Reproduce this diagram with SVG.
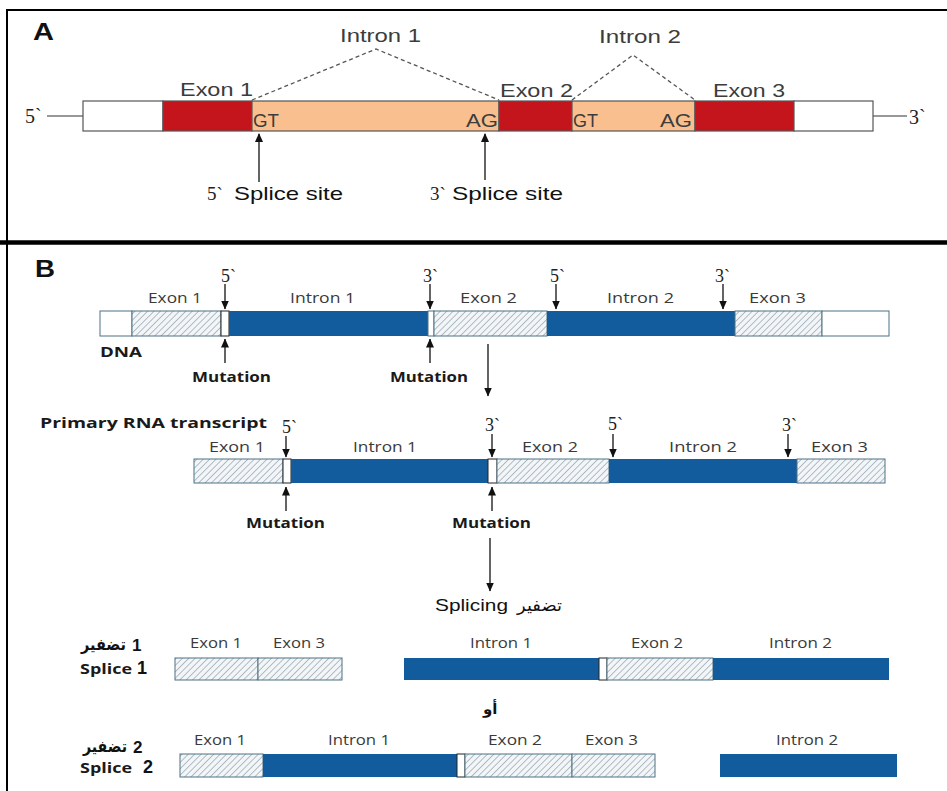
<svg xmlns="http://www.w3.org/2000/svg" width="947" height="791" viewBox="0 0 947 791">
  <style>
    .frame { stroke: #000; fill: none; }
    .seg { stroke: #555; stroke-width: 1.2; }
    .red { fill: #c4151c; }
    .peach { fill: #f9bf8e; }
    .blank { fill: #ffffff; }
    .lblA { font-family: "Liberation Sans", Arial, sans-serif; font-size: 19px; fill: #3c3c3c; }
    .serif { font-family: "Liberation Serif", "Times New Roman", serif; fill: #222; }
    .panel { font-family: "Liberation Sans", Arial, sans-serif; font-weight: bold; font-size: 23px; fill: #111; }
    .lblB { font-family: "Open Sans", "Noto Sans", sans-serif; font-size: 15px; fill: #3a3a3a; }
    .bold { font-family: "Open Sans", "Noto Sans", sans-serif; font-weight: bold; font-size: 14px; fill: #1a1a1a; }
    .ar { font-family: "DejaVu Sans", "Noto Sans", sans-serif; fill: #111; }
    .num { font-family: "Liberation Sans", Arial, sans-serif; font-weight: bold; fill: #111; }
    .bar { stroke: #4d7286; stroke-width: 1; }
    .blue { fill: #125c9d; }
    .hatch { fill: url(#hatch); }
    .dash { stroke: #555; stroke-width: 1.3; stroke-dasharray: 4 3; fill: none; }
    .arr { stroke: #111; stroke-width: 1.3; fill: none; }
  </style>
  <defs>
    <pattern id="hatch" patternUnits="userSpaceOnUse" width="4.5" height="4.5" patternTransform="rotate(45)">
      <rect width="4.5" height="4.5" fill="#f3f6f8"/>
      <line x1="0" y1="0" x2="0" y2="4.5" stroke="#7c8b97" stroke-width="1.1"/>
    </pattern>
    <marker id="head" markerUnits="userSpaceOnUse" markerWidth="9" markerHeight="8" refX="8" refY="4" orient="auto">
      <path d="M0,0 L9,4 L0,8 z" fill="#111"/>
    </marker>
    <marker id="headS" markerUnits="userSpaceOnUse" markerWidth="9" markerHeight="8" refX="8.5" refY="4" orient="auto">
      <path d="M0,0 L9,4 L0,8 z" fill="#111"/>
    </marker>
  </defs>

  <rect width="947" height="791" fill="#ffffff"/>

  <!-- frame and panel divider -->
  <g id="frame">
    <line class="frame" x1="7" y1="10" x2="947" y2="10" stroke-width="2"/>
    <line class="frame" x1="7" y1="9" x2="7" y2="791" stroke-width="2"/>
    <line class="frame" x1="0" y1="242.5" x2="947" y2="242.5" stroke-width="4.5"/>
  </g>

  <!-- ===== Panel A: gene structure ===== -->
  <text class="panel" x="33" y="40" textLength="21" lengthAdjust="spacingAndGlyphs">A</text>

  <g id="a-ends">
    <line x1="47" y1="116" x2="83" y2="116" stroke="#333" stroke-width="1.2"/>
    <line x1="873" y1="116" x2="907" y2="116" stroke="#333" stroke-width="1.2"/>
    <text class="serif" x="25" y="123" font-size="20">5`</text>
    <text class="serif" x="909" y="124" font-size="20">3`</text>
  </g>
  <g id="a-utr5"><rect class="seg blank" x="83" y="101" width="80" height="30"/></g>
  <g id="a-exon1">
    <rect class="seg red" x="163" y="101" width="89" height="30"/>
    <text class="lblA" x="180" y="96" textLength="73" lengthAdjust="spacingAndGlyphs">Exon 1</text>
  </g>
  <g id="a-intron1">
    <rect class="seg peach" x="252" y="101" width="247" height="30"/>
    <text class="lblA" x="253" y="127" textLength="26" lengthAdjust="spacingAndGlyphs">GT</text>
    <text class="lblA" x="466" y="127" textLength="32" lengthAdjust="spacingAndGlyphs">AG</text>
    <text class="lblA" x="340" y="42" textLength="81" lengthAdjust="spacingAndGlyphs">Intron 1</text>
  </g>
  <g id="a-exon2">
    <rect class="seg red" x="499" y="101" width="73" height="30"/>
    <text class="lblA" x="500" y="97" textLength="73" lengthAdjust="spacingAndGlyphs">Exon 2</text>
  </g>
  <g id="a-intron2">
    <rect class="seg peach" x="572" y="101" width="123" height="30"/>
    <text class="lblA" x="573" y="127" textLength="25" lengthAdjust="spacingAndGlyphs">GT</text>
    <text class="lblA" x="660" y="127" textLength="32" lengthAdjust="spacingAndGlyphs">AG</text>
    <text class="lblA" x="599" y="43" textLength="82" lengthAdjust="spacingAndGlyphs">Intron 2</text>
  </g>
  <g id="a-exon3">
    <rect class="seg red" x="695" y="101" width="99" height="30"/>
    <text class="lblA" x="713" y="97" textLength="72" lengthAdjust="spacingAndGlyphs">Exon 3</text>
  </g>
  <g id="a-utr3"><rect class="seg blank" x="794" y="101" width="79" height="30"/></g>

  <g id="a-sites">
    <text class="serif" x="207" y="200" font-size="19">5`</text>
    <text class="lblA" x="234" y="200" style="fill:#111" textLength="109" lengthAdjust="spacingAndGlyphs">Splice site</text>
    <text class="serif" x="430" y="200" font-size="19">3`</text>
    <text class="lblA" x="452" y="200" style="fill:#111" textLength="111" lengthAdjust="spacingAndGlyphs">Splice site</text>
  </g>

  <g id="a-connectors">
    <polyline class="dash" points="252,100 376,49 499,100"/>
    <polyline class="dash" points="572,100 633,55 695,100"/>
    <line class="arr" x1="259" y1="182" x2="259" y2="134" marker-end="url(#head)"/>
    <line class="arr" x1="485" y1="180" x2="485" y2="134" marker-end="url(#head)"/>
  </g>

  <!-- ===== Panel B: splice-site mutations ===== -->
  <text class="panel" x="35" y="277" textLength="20" lengthAdjust="spacingAndGlyphs">B</text>

  <!-- DNA -->
  <g id="dna">
    <rect class="bar blank" x="100" y="311" width="32" height="25"/>
    <rect class="bar hatch" x="132" y="311" width="89" height="25"/>
    <rect class="bar blank" x="221" y="311" width="8" height="25" style="stroke:#222"/>
    <rect class="blue" x="229" y="311" width="199" height="25"/>
    <rect class="bar blank" x="428" y="311" width="6" height="25"/>
    <rect class="bar hatch" x="434" y="311" width="113" height="25"/>
    <rect class="blue" x="547" y="311" width="188" height="25"/>
    <rect class="bar hatch" x="735" y="311" width="87" height="25"/>
    <rect class="bar blank" x="822" y="311" width="67" height="25"/>
    <text class="lblB" x="148" y="303" textLength="54" lengthAdjust="spacingAndGlyphs">Exon 1</text>
    <text class="lblB" x="290" y="303" textLength="65" lengthAdjust="spacingAndGlyphs">Intron 1</text>
    <text class="lblB" x="460" y="303" textLength="57" lengthAdjust="spacingAndGlyphs">Exon 2</text>
    <text class="lblB" x="607" y="303" textLength="67" lengthAdjust="spacingAndGlyphs">Intron 2</text>
    <text class="lblB" x="749" y="303" textLength="57" lengthAdjust="spacingAndGlyphs">Exon 3</text>
    <text class="serif" x="221" y="282" font-size="18">5`</text>
    <text class="serif" x="423" y="282" font-size="18">3`</text>
    <text class="serif" x="550" y="282" font-size="18">5`</text>
    <text class="serif" x="715" y="282" font-size="18">3`</text>
    <text class="bold" x="100" y="357" textLength="42" lengthAdjust="spacingAndGlyphs">DNA</text>
    <text class="bold" x="192" y="382" textLength="79" lengthAdjust="spacingAndGlyphs">Mutation</text>
    <text class="bold" x="390" y="382" textLength="78" lengthAdjust="spacingAndGlyphs">Mutation</text>
  </g>

  <!-- Primary RNA transcript -->
  <g id="rna">
    <text class="bold" x="40" y="428" textLength="227" lengthAdjust="spacingAndGlyphs">Primary RNA transcript</text>
    <rect class="bar hatch" x="194" y="459" width="89" height="24"/>
    <rect class="bar blank" x="283" y="459" width="8" height="24" style="stroke:#222"/>
    <rect class="blue" x="291" y="459" width="197" height="24"/>
    <rect class="bar blank" x="488" y="459" width="9" height="24" style="stroke:#222"/>
    <rect class="bar hatch" x="497" y="459" width="112" height="24"/>
    <rect class="blue" x="609" y="459" width="188" height="24"/>
    <rect class="bar hatch" x="797" y="459" width="88" height="24"/>
    <text class="lblB" x="209" y="452" textLength="56" lengthAdjust="spacingAndGlyphs">Exon 1</text>
    <text class="lblB" x="353" y="452" textLength="64" lengthAdjust="spacingAndGlyphs">Intron 1</text>
    <text class="lblB" x="522" y="452" textLength="56" lengthAdjust="spacingAndGlyphs">Exon 2</text>
    <text class="lblB" x="669" y="452" textLength="68" lengthAdjust="spacingAndGlyphs">Intron 2</text>
    <text class="lblB" x="811" y="452" textLength="57" lengthAdjust="spacingAndGlyphs">Exon 3</text>
    <text class="serif" x="282" y="433" font-size="18">5`</text>
    <text class="serif" x="485" y="431" font-size="18">3`</text>
    <text class="serif" x="608" y="430" font-size="18">5`</text>
    <text class="serif" x="782" y="431" font-size="18">3`</text>
    <text class="bold" x="246" y="528" textLength="79" lengthAdjust="spacingAndGlyphs">Mutation</text>
    <text class="bold" x="452" y="528" textLength="79" lengthAdjust="spacingAndGlyphs">Mutation</text>
  </g>

  <g id="splicing-label">
    <text class="lblA" x="435" y="611" style="fill:#111;font-size:17px" textLength="73" lengthAdjust="spacingAndGlyphs">Splicing</text>
    <text class="ar" x="517" y="611" font-size="17" textLength="45" lengthAdjust="spacingAndGlyphs">تضفير</text>
  </g>

  <!-- Splice 1 products -->
  <g id="splice1">
    <text class="ar" x="81" y="650" font-size="16" font-weight="bold" textLength="45" lengthAdjust="spacingAndGlyphs">تضفير</text>
    <text class="num" x="132" y="651" font-size="17">1</text>
    <text class="bold" x="80" y="674" style="font-size:15px" textLength="52" lengthAdjust="spacingAndGlyphs">Splice</text>
    <text class="num" x="137" y="674" font-size="18">1</text>
    <rect class="bar hatch" x="175" y="658" width="83" height="22"/>
    <rect class="bar hatch" x="258" y="658" width="84" height="22"/>
    <rect class="blue" x="404" y="658" width="195" height="22"/>
    <rect class="bar blank" x="599" y="658" width="8" height="22" style="stroke:#222"/>
    <rect class="bar hatch" x="607" y="658" width="106" height="22"/>
    <rect class="blue" x="713" y="658" width="176" height="22"/>
    <text class="lblB" x="190" y="648" textLength="52" lengthAdjust="spacingAndGlyphs">Exon 1</text>
    <text class="lblB" x="273" y="648" textLength="52" lengthAdjust="spacingAndGlyphs">Exon 3</text>
    <text class="lblB" x="470" y="648" textLength="62" lengthAdjust="spacingAndGlyphs">Intron 1</text>
    <text class="lblB" x="631" y="648" textLength="52" lengthAdjust="spacingAndGlyphs">Exon 2</text>
    <text class="lblB" x="769" y="648" textLength="63" lengthAdjust="spacingAndGlyphs">Intron 2</text>
  </g>

  <text class="ar" x="483" y="714" font-size="15" font-weight="bold">أو</text>

  <!-- Splice 2 products -->
  <g id="splice2">
    <text class="ar" x="83" y="752" font-size="16" font-weight="bold" textLength="44" lengthAdjust="spacingAndGlyphs">تضفير</text>
    <text class="num" x="133" y="753" font-size="17">2</text>
    <text class="bold" x="80" y="773" style="font-size:15px" textLength="52" lengthAdjust="spacingAndGlyphs">Splice</text>
    <text class="num" x="143" y="773" font-size="18">2</text>
    <rect class="bar hatch" x="180" y="754" width="83" height="23"/>
    <rect class="blue" x="263" y="754" width="194" height="23"/>
    <rect class="bar blank" x="457" y="754" width="8" height="23" style="stroke:#222"/>
    <rect class="bar hatch" x="465" y="754" width="107" height="23"/>
    <rect class="bar hatch" x="572" y="754" width="83" height="23"/>
    <rect class="blue" x="720" y="754" width="177" height="23"/>
    <text class="lblB" x="194" y="745" textLength="52" lengthAdjust="spacingAndGlyphs">Exon 1</text>
    <text class="lblB" x="328" y="745" textLength="62" lengthAdjust="spacingAndGlyphs">Intron 1</text>
    <text class="lblB" x="488" y="745" textLength="54" lengthAdjust="spacingAndGlyphs">Exon 2</text>
    <text class="lblB" x="585" y="745" textLength="53" lengthAdjust="spacingAndGlyphs">Exon 3</text>
    <text class="lblB" x="776" y="745" textLength="62" lengthAdjust="spacingAndGlyphs">Intron 2</text>
  </g>

  <!-- arrows in panel B -->
  <g id="connectors">
    <line class="arr" x1="225" y1="284" x2="225" y2="309" marker-end="url(#headS)"/>
    <line class="arr" x1="430" y1="284" x2="430" y2="309" marker-end="url(#headS)"/>
    <line class="arr" x1="556" y1="284" x2="556" y2="309" marker-end="url(#headS)"/>
    <line class="arr" x1="723" y1="284" x2="723" y2="309" marker-end="url(#headS)"/>
    <line class="arr" x1="225" y1="363" x2="225" y2="339" marker-end="url(#headS)"/>
    <line class="arr" x1="430" y1="363" x2="430" y2="339" marker-end="url(#headS)"/>
    <line class="arr" x1="488" y1="344" x2="488" y2="396" marker-end="url(#headS)"/>
    <line class="arr" x1="286" y1="436" x2="286" y2="457" marker-end="url(#headS)"/>
    <line class="arr" x1="492" y1="434" x2="492" y2="457" marker-end="url(#headS)"/>
    <line class="arr" x1="613" y1="434" x2="613" y2="457" marker-end="url(#headS)"/>
    <line class="arr" x1="788" y1="434" x2="788" y2="457" marker-end="url(#headS)"/>
    <line class="arr" x1="286" y1="511" x2="286" y2="487" marker-end="url(#headS)"/>
    <line class="arr" x1="492" y1="511" x2="492" y2="487" marker-end="url(#headS)"/>
    <line class="arr" x1="490" y1="538" x2="490" y2="591" marker-end="url(#headS)"/>
  </g>
</svg>
